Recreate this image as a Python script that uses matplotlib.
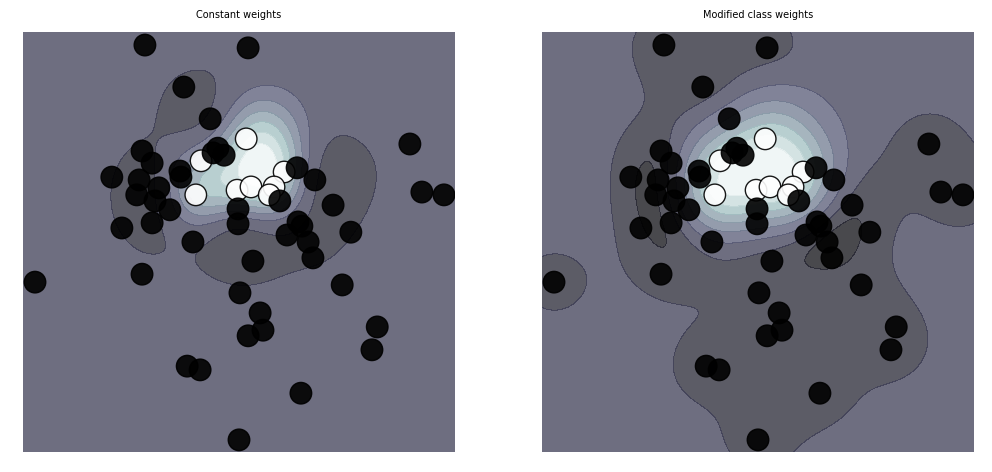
import numpy as np
import matplotlib
matplotlib.use("Agg")
import matplotlib.pyplot as plt

# points (data units, the grid spans -4..5 on both axes)
white_x = [0.65, -0.29, -0.40, 0.46, 0.75, 1.44, 1.23, 1.13]
white_y = [2.71, 2.24, 1.51, 1.61, 1.68, 2.00, 1.68, 1.51]
black_x = [-1.46, 0.69, -0.65, -0.10, -1.52, -1.31, -2.15, -1.58, -1.17, -1.63,
           -1.25, -0.94, -0.73, -0.71, -0.04, 0.06, 0.19, 1.71, 2.08, 4.06,
           4.31, 4.77, 2.46, 0.48, 0.48, 1.35, -0.46, 1.50, 1.73, 1.81,
           1.94, 2.83, -3.75, -1.52, 0.79, 2.04, 0.52, 2.65, 0.94, 1.00,
           0.69, 3.38, 3.27, -0.58, -0.31, 1.79, 0.50, -1.94, -1.31]
black_y = [4.72, 4.66, 3.82, 3.14, 2.45, 2.19, 1.89, 1.83, 1.66, 1.51,
           1.38, 1.19, 2.02, 1.89, 2.41, 2.51, 2.36, 2.09, 1.83, 2.60,
           1.57, 1.51, 1.29, 1.21, 0.89, 1.38, 0.50, 0.65, 0.93, 0.84,
           0.50, 0.71, -0.36, -0.19, 0.09, 0.16, -0.59, -0.42, -1.02, -1.39,
           -1.51, -1.32, -1.81, -2.16, -2.24, -2.74, -3.74, 0.80, 0.91]

titles = ["Constant weights", "Modified class weights"]
# C per class (black, white) for the two fits
class_c = [(1.0, 3.0), (0.2, 3.0)]
# where the darker bands start below the bias, and where the lighter ones start above it
band_offsets = [(1.0, 0.25, 0.3), (0.35, 0.14, 0.15)]

X = np.c_[np.r_[white_x, black_x], np.r_[white_y, black_y]]
y = np.r_[np.ones(len(white_x)), -np.ones(len(black_x))]

band_colors = [plt.cm.bone((k + 0.5) / 9) for k in range(9)]


def fit_svc(X, y, C, gamma=1.0, tol=1e-3, max_iter=200000):
    # small SMO solver for an rbf SVC (no sklearn here)
    K = np.exp(-gamma * ((X[:, None, :] - X[None, :, :]) ** 2).sum(-1))
    a = np.zeros(len(y))
    f = np.zeros(len(y))
    for _ in range(max_iter):
        g = y - f
        up = ((y > 0) & (a < C)) | ((y < 0) & (a > 0))
        low = ((y < 0) & (a < C)) | ((y > 0) & (a > 0))
        iu, il = np.where(up)[0], np.where(low)[0]
        i = iu[np.argmax(g[iu])]
        j = il[np.argmin(g[il])]
        if g[i] - g[j] < tol:
            break
        eta = max(K[i, i] + K[j, j] - 2 * K[i, j], 1e-12)
        if y[i] != y[j]:
            L, H = max(0, a[j] - a[i]), min(C[j], C[i] + a[j] - a[i])
        else:
            L, H = max(0, a[i] + a[j] - C[i]), min(C[j], a[i] + a[j])
        aj = np.clip(a[j] + y[j] * ((f[i] - y[i]) - (f[j] - y[j])) / eta, L, H)
        ai = a[i] + y[i] * y[j] * (a[j] - aj)
        f += (ai - a[i]) * y[i] * K[:, i] + (aj - a[j]) * y[j] * K[:, j]
        a[i], a[j] = ai, aj
    g = y - f
    free = (a > 1e-8) & (a < C - 1e-8)
    b = g[free].mean() if free.any() else (g[i] + g[j]) / 2
    return a * y, b


def plot_decision_function(coef, b, offsets, axis, title, gamma=1.0):
    xx, yy = np.meshgrid(np.linspace(-4, 5, 500), np.linspace(-4, 5, 500))
    Z = np.full(xx.shape, b)
    for (px, py), c in zip(X, coef):
        if c != 0:
            Z += c * np.exp(-gamma * ((xx - px) ** 2 + (yy - py) ** 2))

    d0, d1, u = offsets
    levels = np.r_[min(Z.min(), b - d0 - 1) - 1e-6, b - d0, b - d1,
                   np.linspace(b + u, Z.max() + 1e-6, 7)]
    axis.contourf(xx, yy, Z, levels=levels, colors=band_colors, alpha=0.75)
    axis.scatter(X[:, 0], X[:, 1], c=y, s=240, alpha=0.9, cmap=plt.cm.bone,
                 edgecolors="black")
    axis.set_xlim(-4, 5)
    axis.set_ylim(-4, 5)
    axis.axis("off")
    axis.set_title(title, fontsize=7, pad=10)


fig = plt.figure(figsize=(9.92, 4.72), dpi=100)
ax_left = fig.add_axes([23 / 992, 20 / 472, 432 / 992, 420 / 472])
ax_right = fig.add_axes([542 / 992, 20 / 472, 432 / 992, 420 / 472])

for k, ax in enumerate([ax_left, ax_right]):
    cb, cw = class_c[k]
    C = np.where(y > 0, cw, cb)
    coef, b = fit_svc(X, y, C)
    plot_decision_function(coef, b, band_offsets[k], ax, titles[k])

fig.savefig("out.png", dpi=100)
